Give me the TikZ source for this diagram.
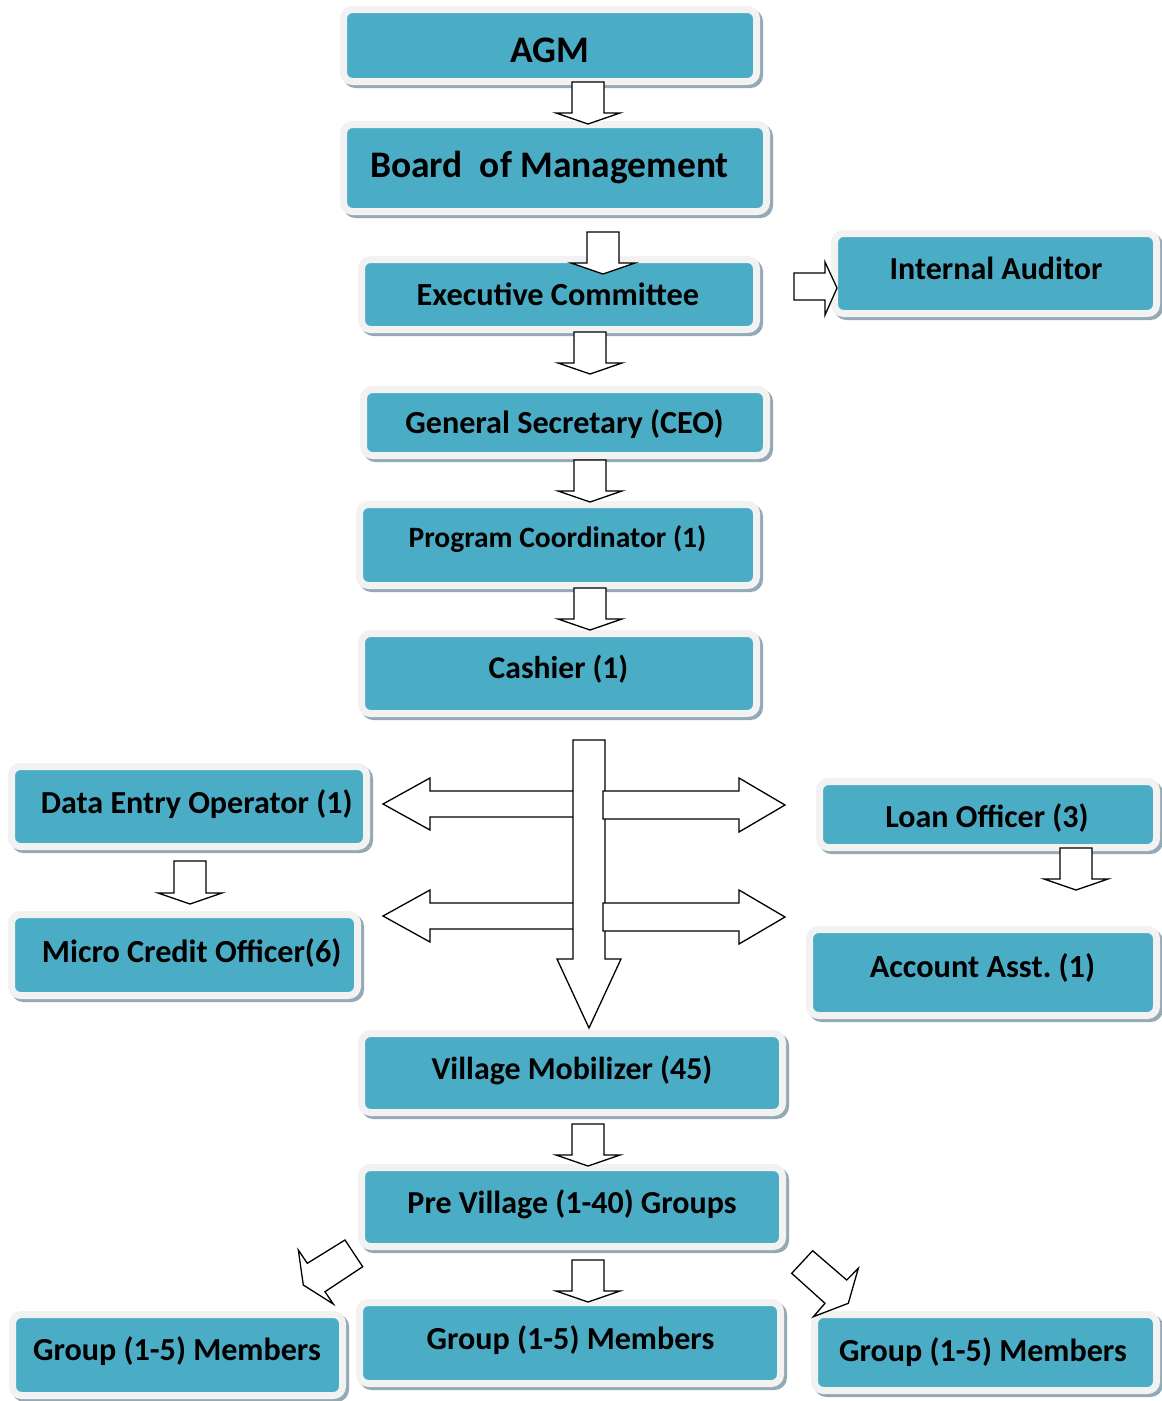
\documentclass[tikz,border=0pt]{standalone}
\usepackage{fontspec}
\setmainfont{Carlito}
\frenchspacing
\definecolor{boxfill}{HTML}{4BACC6}
\definecolor{boxrim}{HTML}{F2F2F2}
\definecolor{boxshade}{HTML}{93AAB6}
\tikzset{
  box/.style={draw=boxrim, line width=7pt, fill=boxfill, rounded corners=9pt, inner sep=0pt,
    preaction={draw=boxshade, fill=boxshade, line width=7pt, transform canvas={shift={(3pt,-3pt)}}}},
  lbl/.style={anchor=base, inner sep=0pt, text=black},
  blk/.style={draw=black, fill=white, line width=1.3pt, line join=miter},
}
% box: name, x1, y1, x2, y2 (inner teal rectangle, pixels, y downwards)
\newcommand\orgbox[5]{%
  \node[box, minimum width={#4pt-#2pt+7pt}, minimum height={#5pt-#3pt+7pt}]
    (#1) at ({(#2+#4)/2},{(#3+#5)/2}) {};}
% label: name, size, x, baseline y, text
\newcommand\orglbl[5]{%
  \node[lbl, font={\fontsize{#2}{#2}\selectfont\bfseries}] (#1) at (#3,#4) {#5};}
% down block arrow: x, tail y, tip y
\newcommand\downblk[3]{%
  \draw[blk] ({#1-16},#2) -- ({#1+16},#2) -- ({#1+16},{#3-11}) -- ({#1+32},{#3-11})
    -- (#1,#3) -- ({#1-32},{#3-11}) -- ({#1-16},{#3-11}) -- cycle;}
\begin{document}
\begin{tikzpicture}[x=1pt, y=-1pt]
\useasboundingbox (0,0) rectangle (1162,1401);
% boxes
\orgbox{agm}{347}{13}{753}{78}
\orgbox{board}{347}{128}{763}{208}
\orgbox{exec}{365}{263}{753}{326}
\orgbox{audit}{838}{237}{1153}{310}
\orgbox{gensec}{367}{393}{763}{452}
\orgbox{prog}{363}{508}{753}{582}
\orgbox{cash}{365}{637}{753}{710}
\orgbox{data}{15}{770}{363}{843}
\orgbox{micro}{15}{918}{354}{992}
\orgbox{loan}{823}{785}{1153}{844}
\orgbox{acct}{813}{933}{1153}{1012}
\orgbox{village}{365}{1037}{779}{1109}
\orgbox{pre}{365}{1171}{779}{1243}
\orgbox{gl}{16}{1318}{339}{1392}
\orgbox{gm}{363}{1306}{777}{1380}
\orgbox{gr}{818}{1318}{1153}{1387}
% labels
\orglbl{agm-t}{37.5}{550}{62}{AGM}
\orglbl{board-t}{37.5}{549.5}{177}{Board\ \ of Management}
\orglbl{exec-t}{32.3}{558}{305}{Executive Committee}
\orglbl{audit-t}{32}{996}{279}{Internal Auditor}
\orglbl{gensec-t}{32.2}{564.5}{433}{General Secretary (CEO)}
\orglbl{prog-t}{29.5}{557.5}{547}{Program Coordinator (1)}
\orglbl{cash-t}{31.6}{558.5}{678}{Cashier (1)}
\orglbl{data-t}{32.1}{196.7}{813}{Data Entry Operator (1)}
\orglbl{micro-t}{32.2}{191.7}{962}{Micro Credit Officer(6)}
\orglbl{loan-t}{32}{987}{827}{Loan Officer (3)}
\orglbl{acct-t}{32.3}{982.5}{977}{Account Asst. (1)}
\orglbl{village-t}{31.9}{572}{1079}{Village Mobilizer (45)}
\orglbl{pre-t}{32}{572}{1213}{Pre Village (1-40) Groups}
\orglbl{gl-t}{32.1}{177}{1360}{Group (1-5) Members}
\orglbl{gm-t}{32.1}{570.5}{1349}{Group (1-5) Members}
\orglbl{gr-t}{32.1}{983}{1361}{Group (1-5) Members}
% vertical chain arrows
\downblk{588}{82}{124}
\downblk{603}{232}{274}
\downblk{590}{332}{374}
\downblk{590}{460}{502}
\downblk{590}{588}{630}
\downblk{190}{861}{904}
\downblk{1076}{848}{890}
\downblk{588}{1124}{1166}
\downblk{588}{1260}{1302}
% exec -> internal auditor
\draw[blk] (794,273) -- (825,273) -- (825,262) -- (837,288) -- (825,315) -- (825,300) -- (794,300) -- cycle;
% left double arrows
\draw[blk] (573,791) -- (430,791) -- (430,778) -- (383,804) -- (430,830) -- (430,817) -- (573,817);
\draw[blk] (573,903) -- (430,903) -- (430,890) -- (383,916) -- (430,942) -- (430,929) -- (573,929);
% big central arrow
\draw[blk] (573,740) -- (605,740) -- (605,959) -- (621,959) -- (589,1028) -- (557,959) -- (573,959) -- cycle;
% right arrows
\draw[blk] (603,791) -- (739,791) -- (739,778) -- (785,805) -- (739,832) -- (739,819) -- (603,819) -- cycle;
\draw[blk] (603,903) -- (739,903) -- (739,890) -- (785,917) -- (739,944) -- (739,931) -- (603,931) -- cycle;
% diagonal arrows
\draw[blk] (303.3,1285) -- (298.3,1250) -- (307.3,1263.3) -- (345,1240) -- (362.7,1266.7) -- (325,1291.7) -- (333.3,1304) -- cycle;
\draw[blk] (812.7,1250.7) -- (846.7,1280) -- (858.3,1268.3) -- (848.3,1303.3) -- (813.3,1316.7) -- (825,1303.3) -- (791.7,1273.3) -- cycle;
\end{tikzpicture}
\end{document}
